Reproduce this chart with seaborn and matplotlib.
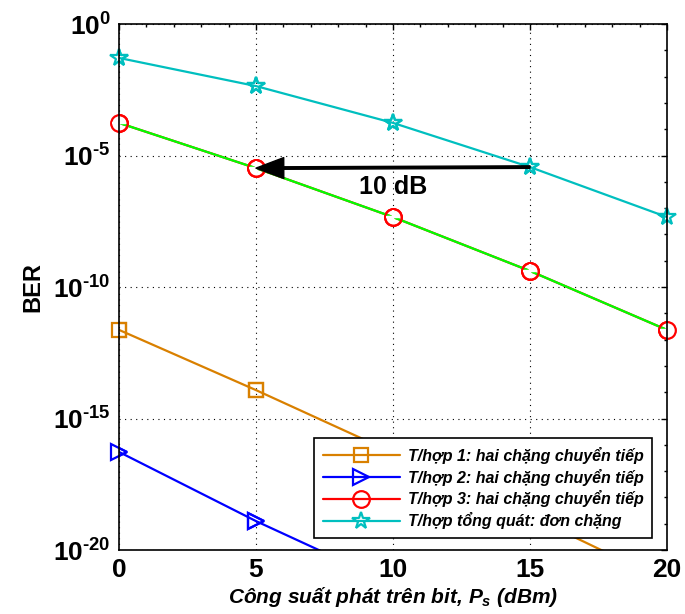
import numpy as np
import pandas as pd
import matplotlib
matplotlib.use("Agg")
import matplotlib.pyplot as plt
import matplotlib.ticker as mticker
import seaborn as sns

# ---- data ----
power_dbm = [0, 5, 10, 15, 20]
ber_case1 = [10**-11.63, 10**-13.92, 10**-16.3, 10**-18.7, 10**-21.2]
ber_case2 = [10**-16.27, 10**-18.9, 10**-21.3, 10**-23.9, 10**-26.5]
ber_case3 = [10**-3.76, 10**-5.48, 10**-7.34, 10**-9.39, 10**-11.63]
ber_general = [10**-1.29, 10**-2.36, 10**-3.76, 10**-5.44, 10**-7.34]
ber_case3_check = list(ber_case3)

labels = ["T/hợp 1: hai chặng chuyển tiếp",
          "T/hợp 2: hai chặng chuyển tiếp",
          "T/hợp 3: hai chặng chuyển tiếp",
          "T/hợp tổng quát: đơn chặng"]
y_ticks = [1e-20, 1e-15, 1e-10, 1e-5, 1e0]
x_ticks = [0, 5, 10, 15, 20]

sns.set_style("white")
plt.rcParams['font.family'] = ['Liberation Sans', 'DejaVu Sans']
plt.rcParams['mathtext.fontset'] = 'custom'
plt.rcParams['mathtext.rm'] = 'Liberation Sans:bold'
plt.rcParams['mathtext.it'] = 'Liberation Sans:italic:bold'
plt.rcParams['mathtext.bf'] = 'Liberation Sans:bold'
plt.rcParams['axes.unicode_minus'] = False
for key in ['text.color', 'axes.labelcolor', 'xtick.color', 'ytick.color']:
    plt.rcParams[key] = 'black'

fig = plt.figure(figsize=(6.85, 6.14), dpi=100)
ax = fig.add_axes([0.1737, 0.1042, 0.8, 0.8567])

series = [
    (ber_case1, "#D98000", "s", labels[0], 10),
    (ber_case2, "#0000FF", ">", labels[1], 12),
    (ber_case3, "#FF0000", "o", labels[2], 12),
    (ber_general, "#00BFBF", "*", labels[3], 13),
]
for vals, col, mk, lab, ms in series:
    df = pd.DataFrame({"x": power_dbm, "y": vals})
    sns.lineplot(data=df, x="x", y="y", ax=ax, color=col, marker=mk,
                 markersize=ms, markerfacecolor="none", markeredgecolor=col,
                 markeredgewidth=1.6, linewidth=1.6, label=lab)

df_g = pd.DataFrame({"x": power_dbm, "y": ber_case3_check})
sns.lineplot(data=df_g, x="x", y="y", ax=ax, color="#00FF00", marker="+",
             markersize=10, markeredgewidth=1.6, linewidth=1.6,
             label="_nolegend_")

# redraw markers unclipped so those on the box edge show fully
for ln in list(ax.lines):
    xd, yd = np.array(ln.get_xdata()), np.array(ln.get_ydata())
    mask = yd >= 1e-20
    m = ax.plot(xd[mask], yd[mask], linestyle="none", marker=ln.get_marker(),
                markersize=ln.get_markersize(),
                markerfacecolor=ln.get_markerfacecolor(),
                markeredgecolor=ln.get_markeredgecolor(),
                markeredgewidth=ln.get_markeredgewidth(),
                label="_nolegend_")[0]
    m.set_clip_on(False)

ax.set_yscale("log")
ax.set_xlim(0, 20)
ax.set_ylim(1e-20, 1e0)
ax.set_xticks(x_ticks)
ax.set_xticklabels([str(v) for v in x_ticks])
ax.set_yticks(y_ticks)
ax.set_yticklabels([r"$10^{\text{%d}}$" % int(np.log10(v)) for v in y_ticks])
ax.yaxis.set_minor_locator(mticker.LogLocator(base=10, subs=[1.0], numticks=30))
ax.yaxis.set_minor_formatter(mticker.NullFormatter())
ax.xaxis.set_minor_locator(mticker.MultipleLocator(1))

ax.grid(True, which="major", linestyle=(0, (1, 4)), color="black", linewidth=0.8)
ax.tick_params(which="both", direction="in", top=True, right=True,
               length=4, width=1, color="black")
ax.tick_params(which="minor", length=2)
ax.tick_params(axis="both", which="major", labelsize=19, pad=6)
for lab in ax.get_xticklabels():
    lab.set_fontweight("bold")
for s in ax.spines.values():
    s.set_color("black")
    s.set_linewidth(1.2)

ax.set_xlabel(r"Công suất phát trên bit, $P_s$ (dBm)", fontsize=15,
              fontweight="bold", style="italic", labelpad=2)
ax.set_ylabel("BER", fontsize=17, fontweight="bold", labelpad=6)

ax.annotate("", xy=(power_dbm[1], ber_case3[1]),
            xytext=(power_dbm[3], ber_general[3]),
            arrowprops=dict(facecolor="black", edgecolor="black", width=1.8,
                            headwidth=15, headlength=20, shrink=0.0))
ax.text(power_dbm[2], 10**-6.2, "10 dB", fontsize=18, fontweight="bold",
        ha="center", va="center")

leg = ax.legend(loc="lower right", bbox_to_anchor=(0.973, 0.023),
                borderaxespad=0, fancybox=False, framealpha=1,
                edgecolor="black", handlelength=4.8, numpoints=1,
                prop={"size": 11.5, "weight": "bold", "style": "italic"},
                labelspacing=0.3, borderpad=0.55, handletextpad=0.5)
leg.get_frame().set_linewidth(1.2)
leg.set_zorder(10)

fig.savefig("out.png", dpi=100)
